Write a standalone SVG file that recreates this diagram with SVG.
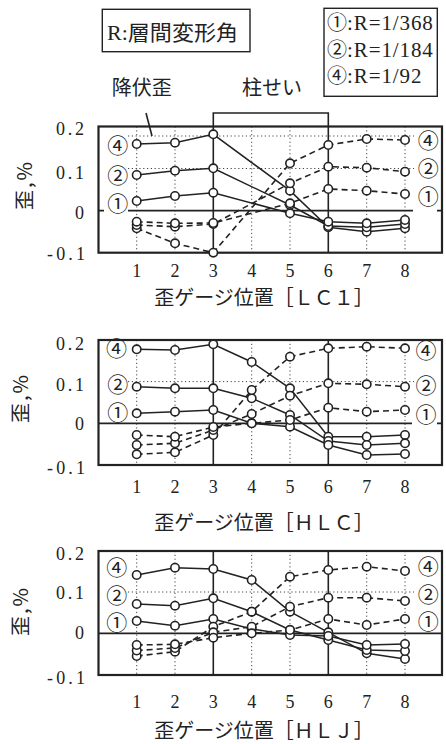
<svg xmlns="http://www.w3.org/2000/svg" xmlns:xlink="http://www.w3.org/1999/xlink" width="446" height="744" viewBox="0 0 446 744">
<style>
.bg{fill:#fff}
.frame{fill:none;stroke:#222;stroke-width:2.2}
.box{fill:none;stroke:#222;stroke-width:1.4}
.zero{stroke:#222;stroke-width:1.8;fill:none}
.vs{stroke:#222;stroke-width:1.6;fill:none}
.grid{stroke:#444;stroke-width:1;stroke-dasharray:1.2 2.6;fill:none}
.sl{fill:none;stroke:#222;stroke-width:1.5}
.dl{fill:none;stroke:#222;stroke-width:1.6;stroke-dasharray:6 4}
.mk{fill:none;stroke:none;marker-start:url(#o);marker-mid:url(#o);marker-end:url(#o)}
text{fill:#222}
.num{font-family:"Liberation Serif","Noto Sans CJK JP",serif;font-size:18px}
.jp{font-family:"Noto Sans CJK JP",sans-serif;font-size:20px}
.cn{font-family:"Noto Sans CJK JP",sans-serif;font-size:21px;text-anchor:middle}
.leg{font-family:"Liberation Serif","Noto Sans CJK JP",serif;font-size:21px}
.lc{font-family:"Noto Sans CJK JP",sans-serif;font-size:20px}
</style>
<defs>
<marker id="o" viewBox="-6 -6 12 12" markerWidth="12" markerHeight="12" markerUnits="userSpaceOnUse" refX="0" refY="0" overflow="visible"><circle r="4.2" fill="#fff" stroke="#222" stroke-width="1.6"/></marker>
</defs>
<rect class="bg" x="0" y="0" width="446" height="744"/>

<g id="header">
<rect class="box" x="102.3" y="9.3" width="147.7" height="42.4"/>
<text class="leg" x="107" y="39.5" font-size="21.5" textLength="131" lengthAdjust="spacingAndGlyphs">R:層間変形角</text>
<g id="legend">
<rect class="box" x="324" y="8.3" width="113.3" height="88"/>
<text class="leg"><tspan class="lc" x="327" y="30">①</tspan><tspan letter-spacing="0.9">:R=1/368</tspan><tspan class="lc" x="327" y="56.5">②</tspan><tspan letter-spacing="0.9">:R=1/184</tspan><tspan class="lc" x="327" y="83">④</tspan><tspan letter-spacing="0.9">:R=1/92</tspan></text>
</g>
<text class="jp" x="141.7" y="94.5" text-anchor="middle">降伏歪</text>
<text class="jp" x="272" y="94.5" text-anchor="middle">柱せい</text>
</g>

<!-- Chart 1 : LC1 -->
<g id="chart-lc1">
<g class="grid">
<path d="M136.7 126.5V252.7M175 126.5V252.7M251.7 126.5V252.7M290 126.5V252.7M366.7 126.5V252.7M405 126.5V252.7"/>
<path d="M128 136H414M128 168.5H414"/>
</g>
<path class="zero" d="M128 210.7H413M99 210.7H104M437 210.7H442"/>
<path class="vs" d="M213.3 252.7V113H328.3V252.7"/>
<path class="vs" d="M146 113L152 136" stroke-width="1.3"/>
<rect class="frame" x="98.5" y="126.5" width="343.5" height="126.2"/>
<g id="c1-connectors">
<g class="sl">
<polyline id="c1s4" points="136.7,144 175,142.7 213.3,134.3 290,190.7 328.3,227.3 366.7,231.7 405,228.3"/>
<polyline id="c1s2" points="136.7,175 175,170.7 213.3,168.3 290,205 328.3,226 366.7,227.3 405,224"/>
<polyline id="c1s1" points="136.7,201 175,196 213.3,192.7 290,213.3 328.3,221.7 366.7,223.3 405,220"/>
</g>
<g class="dl">
<polyline id="c1d4" points="136.7,228.3 175,243.3 213.3,252.7 290,163.3 328.3,145 366.7,139 405,140"/>
<polyline id="c1d2" points="136.7,225 175,226.7 213.3,224 290,183.3 328.3,166.7 366.7,167.7 405,171.7"/>
<polyline id="c1d1" points="136.7,221.7 175,223.3 213.3,223 290,203.3 328.3,189 366.7,190.7 405,194"/>
</g>
</g>
<g class="mk">
<use xlink:href="#c1s4"/><use xlink:href="#c1s2"/><use xlink:href="#c1s1"/>
<use xlink:href="#c1d4"/><use xlink:href="#c1d2"/><use xlink:href="#c1d1"/>
</g>
<text class="cn"><tspan x="117.7" y="153">④</tspan><tspan x="117.7" y="183">②</tspan><tspan x="117.7" y="211.3">①</tspan></text>
<text class="cn"><tspan x="428.3" y="148">④</tspan><tspan x="428.3" y="176">②</tspan><tspan x="428.3" y="203.5">①</tspan></text>
<g class="num" text-anchor="end">
<text x="84" y="135" textLength="28" lengthAdjust="spacing">0.2</text>
<text x="84" y="179" textLength="28" lengthAdjust="spacing">0.1</text>
<text x="84" y="219">0</text>
<text x="85" y="259.5" textLength="38" lengthAdjust="spacing">-0.1</text>
</g>
<g class="num" text-anchor="middle">
<text x="136.7" y="277">1</text><text x="175" y="277">2</text><text x="213.3" y="277">3</text><text x="251.7" y="277">4</text><text x="290" y="277">5</text><text x="328.3" y="277">6</text><text x="366.7" y="277">7</text><text x="405" y="277">8</text>
</g>
<text class="jp" transform="translate(32,185) rotate(-90)" text-anchor="middle" letter-spacing="2">歪,%</text>
<text class="jp" x="264" y="304.5" text-anchor="middle">歪ゲージ位置［ＬＣ１］</text>
</g>

<!-- Chart 2 : HLC -->
<g id="chart-hlc">
<g class="grid">
<path d="M136.7 340V465M175 340V465M251.7 340V465M290 340V465M366.7 340V465M405 340V465"/>
<path d="M128 381.6H414"/>
</g>
<path class="zero" d="M99 423.3H412M437 423.3H442"/>
<path class="vs" d="M213.3 340V465M328.3 340V465"/>
<rect class="frame" x="98.5" y="340" width="343.5" height="125"/>
<g id="c2-connectors">
<g class="sl">
<polyline id="c2s4" points="136.7,349.3 175,350 213.3,344.3 251.7,362 290,388.3 328.3,436.7 366.7,436.7 405,435"/>
<polyline id="c2s2" points="136.7,386.7 175,388.3 213.3,388.3 251.7,398.3 290,415 328.3,441 366.7,445 405,443.3"/>
<polyline id="c2s1" points="136.7,413.3 175,411.7 213.3,410 251.7,423.3 290,426.7 328.3,445 366.7,455 405,454"/>
</g>
<g class="dl">
<polyline id="c2d4" points="136.7,454.3 175,452.3 213.3,435 251.7,390 290,356.7 328.3,348.3 366.7,346.7 405,348.3"/>
<polyline id="c2d2" points="136.7,445 175,443.3 213.3,430 251.7,414 290,395.7 328.3,383.3 366.7,384.3 405,386.7"/>
<polyline id="c2d1" points="136.7,435 175,436.7 213.3,427 251.7,423.3 290,420 328.3,407.7 366.7,411.7 405,410"/>
</g>
</g>
<g class="mk">
<use xlink:href="#c2s4"/><use xlink:href="#c2s2"/><use xlink:href="#c2s1"/>
<use xlink:href="#c2d4"/><use xlink:href="#c2d2"/><use xlink:href="#c2d1"/>
</g>
<text class="cn"><tspan x="116.5" y="356.3">④</tspan><tspan x="117.7" y="392">②</tspan><tspan x="117.7" y="419.5">①</tspan></text>
<text class="cn"><tspan x="426" y="358">④</tspan><tspan x="426" y="393">②</tspan><tspan x="426" y="422.3">①</tspan></text>
<g class="num" text-anchor="end">
<text x="84" y="349.5" textLength="28" lengthAdjust="spacing">0.2</text>
<text x="84" y="391" textLength="28" lengthAdjust="spacing">0.1</text>
<text x="84" y="429.5">0</text>
<text x="85" y="473.5" textLength="38" lengthAdjust="spacing">-0.1</text>
</g>
<g class="num" text-anchor="middle">
<text x="136.7" y="493">1</text><text x="175" y="493">2</text><text x="213.3" y="493">3</text><text x="251.7" y="493">4</text><text x="290" y="493">5</text><text x="328.3" y="493">6</text><text x="366.7" y="493">7</text><text x="405" y="493">8</text>
</g>
<text class="jp" transform="translate(28,398) rotate(-90)" text-anchor="middle" letter-spacing="2">歪,%</text>
<text class="jp" x="264" y="529.5" text-anchor="middle">歪ゲージ位置［ＨＬＣ］</text>
</g>

<!-- Chart 3 : HLJ -->
<g id="chart-hlj">
<g class="grid">
<path d="M136.7 551V675M175 551V675M251.7 551V675M290 551V675M366.7 551V675M405 551V675"/>
<path d="M128 592H414"/>
</g>
<path class="zero" d="M99 633.3H442"/>
<path class="vs" d="M213.3 551V675M328.3 551V675"/>
<rect class="frame" x="98.5" y="551" width="343.5" height="124"/>
<g id="c3-connectors">
<g class="sl">
<polyline id="c3s4" points="136.7,575 175,567.7 213.3,569 251.7,580 290,611.7 328.3,632.3 366.7,653.3 405,659"/>
<polyline id="c3s2" points="136.7,604 175,605.7 213.3,598.3 251.7,611.7 290,630 328.3,640 366.7,650 405,651"/>
<polyline id="c3s1" points="136.7,621 175,625.7 213.3,619 251.7,629 290,635 328.3,636 366.7,645 405,644"/>
</g>
<g class="dl">
<polyline id="c3d4" points="136.7,656 175,651.7 213.3,626.7 251.7,611.7 290,576.7 328.3,570 366.7,566.7 405,571"/>
<polyline id="c3d2" points="136.7,650.5 175,648 213.3,632.3 251.7,626.7 290,606.7 328.3,597.7 366.7,597.7 405,601"/>
<polyline id="c3d1" points="136.7,645 175,644.3 213.3,637.7 251.7,633.3 290,630 328.3,619 366.7,625 405,619"/>
</g>
</g>
<g class="mk">
<use xlink:href="#c3s4"/><use xlink:href="#c3s2"/><use xlink:href="#c3s1"/>
<use xlink:href="#c3d4"/><use xlink:href="#c3d2"/><use xlink:href="#c3d1"/>
</g>
<text class="cn"><tspan x="116.7" y="575">④</tspan><tspan x="116.7" y="602.5">②</tspan><tspan x="116.7" y="630">①</tspan></text>
<text class="cn"><tspan x="428.3" y="574">④</tspan><tspan x="428.3" y="601.5">②</tspan><tspan x="428.3" y="629">①</tspan></text>
<g class="num" text-anchor="end">
<text x="84" y="559.5" textLength="28" lengthAdjust="spacing">0.2</text>
<text x="84" y="599" textLength="28" lengthAdjust="spacing">0.1</text>
<text x="84" y="639">0</text>
<text x="85" y="683.5" textLength="38" lengthAdjust="spacing">-0.1</text>
</g>
<g class="num" text-anchor="middle">
<text x="136.7" y="708">1</text><text x="175" y="708">2</text><text x="213.3" y="708">3</text><text x="251.7" y="708">4</text><text x="290" y="708">5</text><text x="328.3" y="708">6</text><text x="366.7" y="708">7</text><text x="405" y="708">8</text>
</g>
<text class="jp" transform="translate(28,611) rotate(-90)" text-anchor="middle" letter-spacing="2">歪,%</text>
<text class="jp" x="264" y="738" font-size="19.5" text-anchor="middle">歪ゲージ位置［ＨＬＪ］</text>
</g>
</svg>
